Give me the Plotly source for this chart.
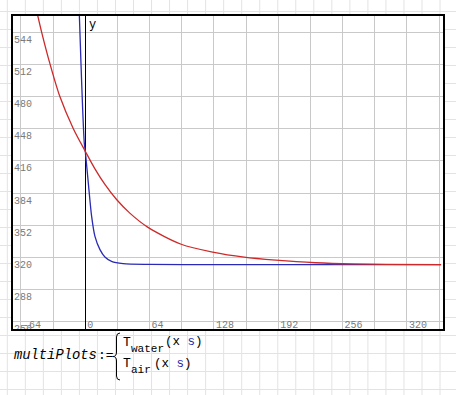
import plotly.graph_objects as go

# ---------------- data ----------------
water_x = [-47.3, -43.4, -35.0, -25.3, -11.9, 0, 9.6, 19.5, 31.1, 44.3,
           62.4, 95.4, 126.7, 158, 189.5, 229, 267, 300, 354]
water_y = [560.5, 544, 512, 480, 448, 425.5, 408, 392.5, 377.5, 364,
           349.8, 333, 325.2, 320.2, 317.2, 314.6, 313.4, 313.0, 312.8]
air_x = [-5.9, -4.3, -2.6, -1, 0, 3, 6.3, 9.6, 14.6, 19.5, 26.1, 37.6, 64, 128, 192, 256, 320, 354]
air_y = [560.5, 513.2, 466.8, 433.7, 425.5, 393.9, 360.7, 340.8, 327.6, 320.3, 316, 313.7,
         312.9, 312.8, 312.8, 312.8, 312.8, 312.8]
x_tick_vals = [-64, 0, 64, 128, 192, 256, 320]
y_tick_vals = [256, 288, 320, 352, 384, 416, 448, 480, 512, 544]
grid_step = 32

# ---------------- layout geometry ----------------
W, H = 456, 395
ML, MR, MT, MB = 13, 13, 16, 66
X0PX, XS = 85.3, 1.005      # pixel of x=0, pixels per unit
Y544PX, YS = 32.3, 1.0045   # pixel of y=544, pixels per unit

def xdat(px):
    return (px - X0PX) / XS

def ydat(py):
    return 544 - (py - Y544PX) / YS

xr = [xdat(ML), xdat(W - MR)]
yr = [ydat(H - MB), ydat(MT)]

AW, AH = W - ML - MR, H - MT - MB

def pxp(px):
    return (px - ML) / AW

def pyp(py):
    return (H - MB - py) / AH

MONO = "Liberation Mono"
RED = "#cc2a2a"
BLUE = "#2a2ab4"

fig = go.Figure()

fig.add_trace(go.Scatter(x=air_x, y=air_y, mode="lines",
                         line=dict(color=BLUE, width=1.3, shape="spline", smoothing=0.8),
                         hoverinfo="skip", showlegend=False))
fig.add_trace(go.Scatter(x=water_x, y=water_y, mode="lines",
                         line=dict(color=RED, width=1.3, shape="spline", smoothing=0.8),
                         hoverinfo="skip", showlegend=False))

# tick labels drawn inside the plot (clipped like in the reference)
fig.add_trace(go.Scatter(x=[v + 2 / XS for v in x_tick_vals],
                         y=[ydat(H - MB + 1)] * len(x_tick_vals),
                         mode="text", text=[str(v) for v in x_tick_vals],
                         textposition="top right",
                         textfont=dict(family=MONO, size=10, color="#7a7a7a"),
                         cliponaxis=True, hoverinfo="skip", showlegend=False))
fig.add_trace(go.Scatter(x=[xdat(ML + 1)] * len(y_tick_vals),
                         y=[v - 3 / YS for v in y_tick_vals],
                         mode="text", text=[str(v) for v in y_tick_vals],
                         textposition="bottom right",
                         textfont=dict(family=MONO, size=10, color="#7a7a7a"),
                         cliponaxis=True, hoverinfo="skip", showlegend=False))

shapes = []
# worksheet background grid
k = 0
while 7.3 + 18.03 * k < W:
    px = 7.3 + 18.03 * k
    shapes.append(dict(type="line", xref="paper", yref="paper", x0=pxp(px), x1=pxp(px),
                       y0=pyp(0), y1=pyp(H), line=dict(color="#e3e3e3", width=1), layer="below"))
    k += 1
k = 0
while 11.5 + 18 * k < H:
    py = 11.5 + 18 * k
    shapes.append(dict(type="line", xref="paper", yref="paper", x0=pxp(0), x1=pxp(W),
                       y0=pyp(py), y1=pyp(py), line=dict(color="#e3e3e3", width=1), layer="below"))
    k += 1
# white plot region
shapes.append(dict(type="rect", xref="paper", yref="paper", x0=0, x1=1, y0=0, y1=1,
                   fillcolor="white", line=dict(width=0), layer="below"))
# curly brace of the formula
bx = [pxp(v) for v in (120, 116.5, 116.5, 113, 116.5, 116.5, 120)]
by = [pyp(v) for v in (333, 337, 352, 356.5, 361, 376, 380)]
brace = (f"M{bx[0]},{by[0]} Q{bx[1]},{by[0]} {bx[1]},{by[1]} L{bx[2]},{by[2]} "
         f"Q{bx[2]},{by[3]} {bx[3]},{by[3]} Q{bx[4]},{by[3]} {bx[4]},{by[4]} "
         f"L{bx[5]},{by[5]} Q{bx[5]},{by[6]} {bx[6]},{by[6]}")
shapes.append(dict(type="path", xref="paper", yref="paper", path=brace,
                   line=dict(color="black", width=1)))

ann = []
def txt(s, px, py, size, color="black", xanchor="left"):
    ann.append(dict(text=s, x=pxp(px), y=pyp(py), xref="paper", yref="paper",
                    xanchor=xanchor, yanchor="middle", showarrow=False,
                    font=dict(family=MONO, size=size, color=color)))

txt("y", 87, 25, 12)
txt("<i>multiPlots</i>", 12, 356, 13.8)
txt(":=", 96, 356, 13)
txt("T", 121, 342, 13)
txt("water", 128.5, 349, 11)
txt(f"(x <span style='color:{BLUE}'>s</span>)", 163, 342, 12.5)
txt("T", 121, 363.5, 13)
txt("air", 128.5, 370, 11)
txt(f"(x <span style='color:{BLUE}'>s</span>)", 152, 363.5, 12.5)

axis_common = dict(showgrid=True, gridcolor="#c9c9c9", gridwidth=1.2, tick0=0, dtick=grid_step,
                   showticklabels=False, ticks="", showline=True, mirror=True,
                   linecolor="black", linewidth=1.5)

fig.update_layout(
    width=W, height=H, margin=dict(l=ML, r=MR, t=MT, b=MB, pad=0),
    paper_bgcolor="white", plot_bgcolor="rgba(0,0,0,0)",
    xaxis=dict(range=xr, zeroline=True, zerolinecolor="black", zerolinewidth=1.1, **axis_common),
    yaxis=dict(range=yr, zeroline=False, **axis_common),
    shapes=shapes, annotations=ann, showlegend=False,
)

fig.write_html("out.html", config={"displayModeBar": False},
               post_script="document.body.style.margin='0px';document.body.style.overflow='hidden';")
